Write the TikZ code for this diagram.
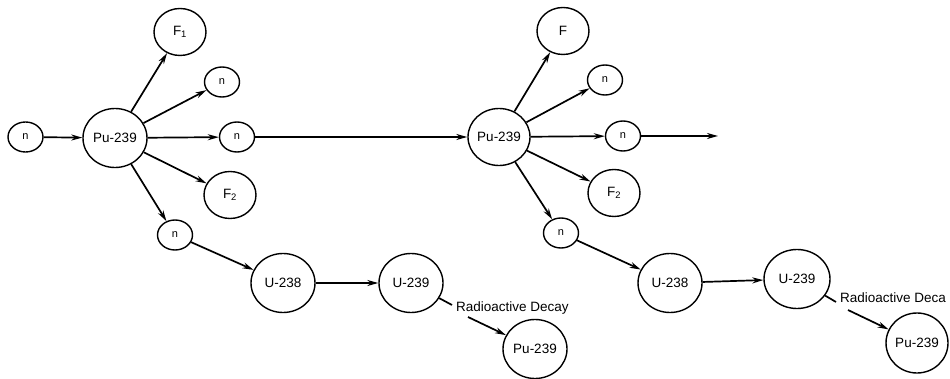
\documentclass[tikz,border=0pt]{standalone}
\usepackage{fontspec}
\setmainfont{Liberation Sans}
\usetikzlibrary{shapes.geometric,arrows.meta}
\tikzset{
  nuc/.style={draw, ellipse, line width=1.4pt, inner sep=0pt, font=\fontsize{13.5}{14}\selectfont},
  big/.style={nuc, minimum width=64pt, minimum height=59pt},
  frag/.style={nuc, minimum width=52pt, minimum height=47pt},
  neu/.style={nuc, minimum width=35pt, minimum height=30pt, font=\fontsize{11}{12}\selectfont},
  arr/.style={line width=1.7pt, -{Stealth[length=11pt,width=6pt]}},
  ln/.style={line width=1.7pt},
  lbl/.style={inner sep=0pt, anchor=west, font=\fontsize{13.5}{14}\selectfont}
}
\begin{document}
\begin{tikzpicture}[x=1pt,y=-1pt]
\useasboundingbox (0,0) rectangle (950,379);
% left group
\node[neu] (nL) at (25.5,137) {n};
\node[big] (PuA) at (115,138) {Pu-239};
\node[frag] (F1) at (180,32) {F\textsubscript{1}};
\node[neu] (nA1) at (222,82) {n};
\node[neu] (nA2) at (237,137) {n};
\node[frag] (F2A) at (230,195) {F\textsubscript{2}};
\node[neu] (nA3) at (175,235) {n};
\node[big] (U238A) at (283,283) {U-238};
\node[big] (U239A) at (411,283) {U-239};
\node[lbl] (rdA) at (456,308) {Radioactive Decay};
\node[big] (PuA2) at (535,349) {Pu-239};
% right group
\node[big, minimum width=62pt, minimum height=57pt] (PuB) at (499,137) {Pu-239};
\node[frag] (FB) at (563,31) {F};
\node[neu] (nB1) at (605,80) {n};
\node[neu] (nB2) at (623,136) {n};
\coordinate (endB) at (718,136);
\node[frag] (F2B) at (614,193) {F\textsubscript{2}};
\node[neu] (nB3) at (561,233) {n};
\node[big] (U238B) at (670,283) {U-238};
\node[big, minimum width=66pt] (U239B) at (797,279) {U-239};
\node[lbl] (rdB) at (840,298) {Radioactive Deca};
\node[big, minimum width=62pt, minimum height=60pt] (PuB2) at (917,343) {Pu-239};
% coordinates for decay connectors
\coordinate (dA1) at (452,305);
\coordinate (dA2) at (468,317);
\coordinate (dB1) at (836,302);
\coordinate (dB2) at (848,310);
% connectors left
\draw[arr] (nL) -- (PuA);
\draw[arr] (PuA) -- (F1);
\draw[arr] (PuA) -- (nA1);
\draw[arr] (PuA) -- (nA2);
\draw[arr] (PuA) -- (F2A);
\draw[arr] (PuA) -- (nA3);
\draw[arr] (nA3) -- (U238A);
\draw[arr] (U238A) -- (U239A);
\draw[ln] (U239A) -- (dA1);
\draw[arr] (dA2) -- (PuA2);
\draw[arr] (nA2) -- (PuB);
% connectors right
\draw[arr] (PuB) -- (FB);
\draw[arr] (PuB) -- (nB1);
\draw[arr] (PuB) -- (nB2);
\draw[arr] (nB2) -- (endB);
\draw[arr] (PuB) -- (F2B);
\draw[arr] (PuB) -- (nB3);
\draw[arr] (nB3) -- (U238B);
\draw[arr] (U238B) -- (U239B);
\draw[ln] (U239B) -- (dB1);
\draw[arr] (dB2) -- (PuB2);
\end{tikzpicture}
\end{document}
